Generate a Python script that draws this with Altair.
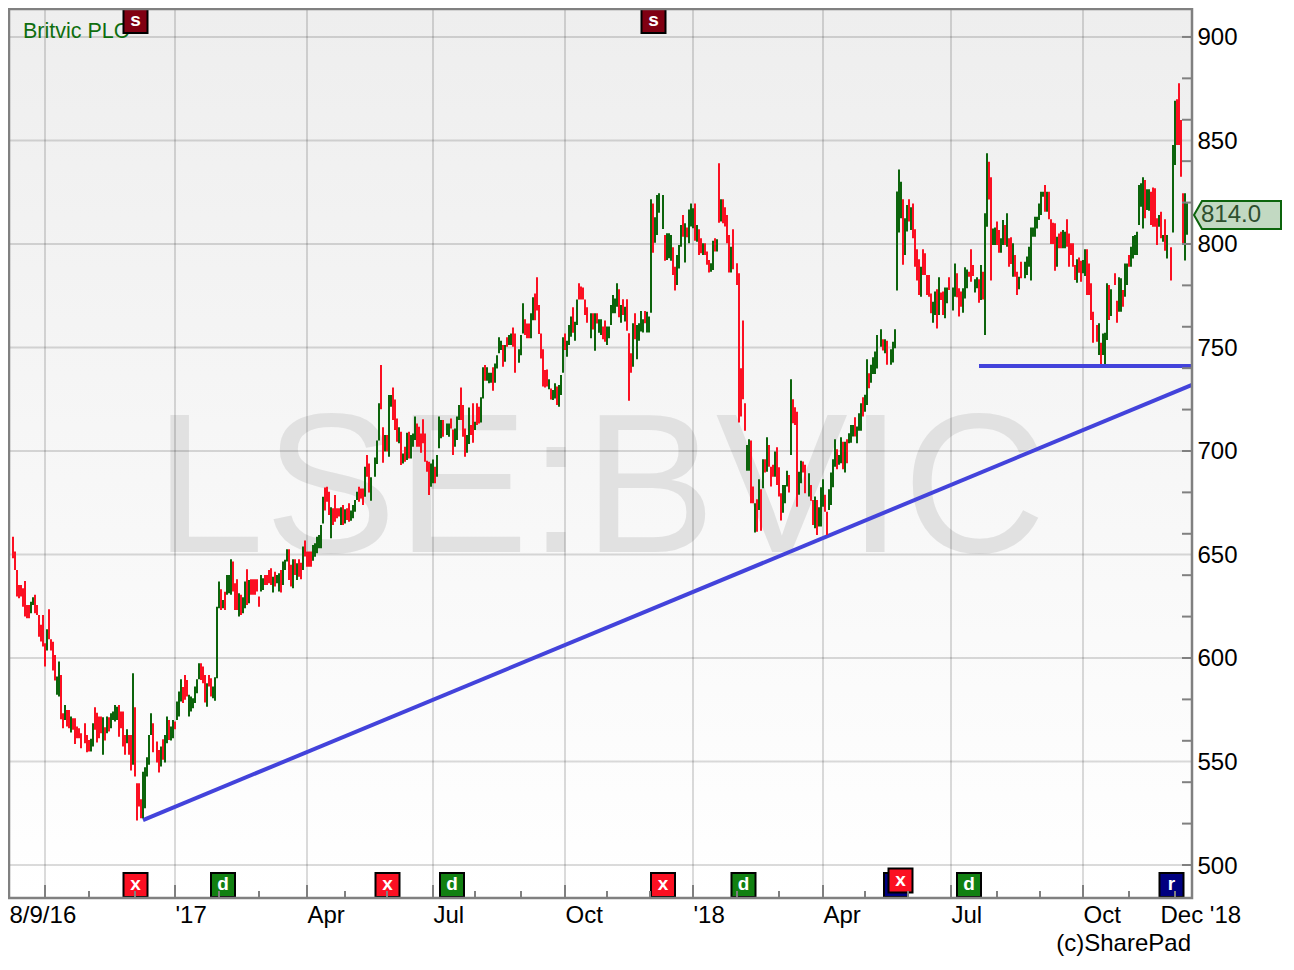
import altair as alt
import pandas as pd

FONT = "Liberation Sans"
RED = "#fb1022"
GREEN = "#0c640c"

# one entry per trading bar: (high, low, r=fell / g=rose); None = no bar visible
bars_1 = [(658.6,648.2,'r'),(651.4,642.5,'r'),(642.5,629.7,'r'),(635.3,628.9,'r'),(635.3,629.7,'r'),(633.7,624.8,'r'),(637.2,620,'r'),(625.6,619.2,'r'),(625.6,619.2,'r'),(627.2,621.6,'g'),
(629.3,625.6,'g'),(630.5,621.6,'r'),(625.6,620.8,'r'),(620.8,610.3,'r'),(616,608,'r'),(620.8,605.5,'r'),(607.1,595.9,'r'),(613.9,603.6,'g'),(623.6,609,'r'),(609,603.6,'r'),
(607.9,593.9,'r'),(601.5,589.1,'r'),(591,582.2,'g'),(598.3,581.4,'g'),(591.8,570.4,'r'),(573.3,566.1,'r'),(577.3,570.1,'g'),(574.9,566.9,'r'),(574.9,566.1,'r'),(571.7,564,'g'),
(570.9,565.3,'r'),(570.9,558.5,'r'),(566.9,561.2,'r'),(566.1,561.2,'r'),(563.7,556.4,'r'),None,(568.5,558.8,'r'),(562.8,554.5,'r'),(560.4,554.8,'r'),(561,554.8,'g'),
(568.5,557.2,'g'),(576.2,565.3,'r'),(573.6,559.2,'r'),(571.7,561.2,'r'),(571.7,563.7,'r'),(571.4,553.2,'g'),(566.6,560.1,'r'),(571.7,563.7,'g'),(571.4,564.5,'r'),(573.3,566.1,'g'),
(574.1,570.1,'g'),(577.3,569.3,'g'),(576.5,570.1,'g'),(577.3,562,'r'),(574.1,566.1,'r'),(574.1,557.2,'r'),(562.8,553.2,'r'),(565.6,558.8,'g'),(562.8,553.2,'r'),(562.8,545.6,'r'),
(592.6,548.4,'g'),(576.2,542.7,'r'),(539.5,521.5,'r'),(539.5,528.2,'r'),(531.8,522.6,'r'),(545.1,522.6,'g'),(547.2,527.4,'g'),(552,542.7,'g'),(562.8,548.4,'g'),(573.3,562.8,'g'),
(568.5,554.5,'r'),None,(559.6,549.5,'r'),(555.6,544.7,'r'),(557.2,547.6,'g'),(560.8,550.8,'r'),(562.8,549.5,'g'),(571.7,558.8,'g'),(570.1,560.4,'r'),(566.9,560.1,'g'),
(570.1,561.2,'g'),(569.3,565.6,'r'),(579,570.1,'g'),(583.8,571.7,'g'),(589.7,579,'g'),(586,578.2,'r'),(591.8,579.8,'r'),(589.4,581.4,'r'),(582.2,571.7,'g'),(581.4,574.1,'g'),
(580.6,575.7,'g'),(586.2,578.2,'g'),(589.7,583,'g'),(597.5,589.7,'g'),(597.5,589.4,'r'),(595.9,587.8,'r'),(591.8,578.5,'r'),(587.8,576.5,'g'),(591.8,586.2,'r'),(590.2,581.4,'r'),
(586.2,580.6,'g'),(590.7,579.4,'g'),(624.8,590.2,'g'),(636.9,624,'g'),(633.2,623.2,'r'),(628,624,'g'),(632,623.2,'r'),(640.1,630.5,'g'),(640.1,631.3,'g'),(647.7,630.5,'g'),
(646.6,632.1,'r'),(636.1,623.2,'r'),(638,623.2,'r'),(631.3,620,'g'),(630.5,620.8,'r'),(629.3,621.6,'g'),(636.9,624,'g'),(642.9,625.6,'r'),(637.7,626.5,'g'),(638,630.5,'r'),
(638,630.5,'r'),(638,630.5,'r'),(638,632.1,'r'),(629.7,624.8,'r'),(640.1,632.1,'g'),(638.5,632.9,'g'),(640.1,635.3,'r'),(640.1,635.3,'r'),(642.5,636.1,'r'),(643.4,635.3,'r'),
(639.3,631.6,'g'),(641.7,634.5,'r'),(640.1,636.1,'g'),(640.9,632.1,'g'),(642.5,631.6,'r'),(646.6,635.3,'g'),(647.4,642.5,'g'),(652.5,646.6,'g'),(652.5,637.7,'r'),(645,634.5,'r'),
(647.7,633.7,'g'),(647.7,640.1,'r'),(645.8,637.7,'g'),(647.7,639.3,'r')]

bars_2 = [(646,638,'r'),(653.8,642.5,'g'),(656.7,649,'r'),(651.4,644.1,'r'),(651.4,644.1,'r'),(651.4,644.1,'r'),(654.6,647,'g'),(655.4,648.9,'g'),(658.6,650.6,'g'),(659.4,653,'g'),
(664.2,653,'g'),(677.9,665,'g'),(682.4,671.2,'r'),(682.7,675.5,'r'),(680.3,669.1,'r'),(672.8,657.8,'g'),(672.3,664.2,'r'),(678.7,665.8,'r'),(672.3,667.5,'r'),(672.3,668.3,'r'),
(672.8,664.2,'g'),(673.9,664.2,'r'),(671.8,665,'g'),(672.3,666.6,'r'),(674.7,665.8,'r'),(671.2,666.3,'g'),(673.9,667.5,'g'),(676.3,670.7,'g'),(680.3,676.3,'g'),(682.7,675.5,'r'),
(681.9,677.1,'r'),(681.9,673.9,'r'),(692.4,677.9,'g'),(698,687.6,'r'),(694,679.9,'r'),(687.3,676,'g'),None,(696.9,687.6,'g'),(705,693.7,'g'),(723,705,'g'),
(741.5,720.1,'r'),(711.4,694.3,'r'),(707.7,699.7,'g'),(707.7,699.7,'r'),(727,697.2,'g'),(727,721.4,'g'),(730.7,715,'r'),(724.9,710.1,'r'),(715.7,704.5,'r'),(711.4,703.7,'g'),
(709.3,693.2,'r'),(698.8,694,'g'),(702.1,694.8,'r'),(708.8,695.6,'g'),(709.3,696.4,'r'),(707.7,696.4,'g'),(708.5,702.1,'g'),(716.6,705.3,'g'),(713.3,702.1,'r'),(711.7,702.1,'r'),
(708.5,699.2,'r'),(715.3,703.7,'r'),(708.5,694.8,'r'),(695.3,690,'r'),(694.8,678.7,'r'),(694,682.7,'g'),(695.9,684.4,'g'),(692.4,684.4,'r'),(698,687.6,'g'),(716.6,701.3,'g'),
(715,706.1,'g'),(715,706.9,'r'),None,(713.3,707.7,'g'),(713.3,706.9,'g'),(715.7,710.9,'r'),(710.4,698,'r'),(710.9,702.1,'g'),(716.6,705.3,'g'),(722.2,715,'g'),
(730.7,715,'r'),(722.2,706.9,'r'),(710.9,697.2,'r'),(707.7,699.2,'g'),(721,703.4,'g'),(712.5,707.7,'r'),(723,704,'r'),(714.1,710.1,'g'),(723,712.5,'r'),(721.4,713.3,'r'),
(725.9,713.7,'g'),(740.4,725.4,'g'),(741.5,733.9,'r'),(740.4,733.9,'g'),(737.8,732.7,'g'),(737.8,733,'g'),(740.4,729.1,'r'),(742.3,733,'g'),(746.3,739.9,'g'),(754.9,747.2,'g'),
(753.3,748.8,'g'),(751.2,740.7,'r'),(751.2,743.1,'g'),(754.9,750.4,'r'),(756,751.2,'g'),(756.8,751.2,'g'),(759.7,750.4,'r'),(756.8,737.8,'r'),None,(749.1,742.6,'g'),
(756,746.3,'g'),(771.3,756.8,'g'),(763.6,756,'r'),(761.6,754.4,'r'),(761.6,754.4,'r'),(766.5,754.4,'g'),(774.2,763.2,'g'),(776.1,763.2,'r'),(783.9,767.8,'r'),(770.5,756.5,'r'),
(756.8,744.7,'r'),(749.1,731.1,'r'),(739.1,730.7,'r'),(739.4,731.1,'r'),(734.6,729.8,'g'),(730.2,724.9,'r'),(729.4,724.6,'g'),(732.7,725.4,'g'),(731.1,722.2,'r'),(731.9,721.4,'g'),
(736.7,727,'g'),(754.9,737.8,'g'),(756.8,748.8,'r'),(753.3,745.5,'g'),(760.8,751.2,'g'),(764.9,755.2,'g'),(769.4,757.1,'r'),(762.4,753.3,'g'),(773.2,760.8,'g'),(781,773.2,'r'),
(779.4,773.2,'r'),(779,773.2,'r'),(773.2,765.7,'r'),(769.4,762,'r'),None,(766.5,754.4,'g'),(766.5,758.7,'r'),(766.5,748.4,'g'),(766.5,761.6,'r'),(763.6,757.1,'g')]

bars_3 = [(763.6,756,'g'),(760.1,754,'r'),(763,752.8,'r'),(760.1,751.2,'g'),(760.1,754.4,'g'),(770.5,760.9,'g'),(775.4,766.5,'g'),(773.7,766.5,'g'),(781,769.7,'g'),(778.1,764.6,'r'),
(770.5,762,'g'),(773.3,765.7,'r'),(769.7,762.5,'g'),(773.3,758.1,'r'),(756.9,724.3,'r'),(747.2,737.8,'r'),(761.7,740.7,'g'),(766.5,754,'r'),(760.9,744.3,'g'),(761.7,753.3,'g'),
(767.6,757.7,'g'),(763.6,757.2,'g'),(767.6,761.7,'r'),(767.3,757.2,'g'),(764.9,757.2,'g'),(821.6,766.8,'g'),(819.6,795.8,'r'),(812.9,800.6,'g'),(823.7,804.3,'g'),(824.5,815.1,'g'),
None,(823.7,807.2,'g'),(804.3,791.9,'r'),(805.2,792.3,'g'),(805.2,793.1,'g'),(804.3,791.9,'g'),(798.4,785,'r'),(789,777.5,'r'),(794.7,780.2,'g'),(799.5,788.2,'g'),
(809.2,798.7,'g'),(814,803.5,'r'),(810,791,'g'),(808,803.2,'r'),(816.7,800.3,'g'),(819.6,808.4,'g'),(817.2,807.6,'g'),(819.6,801.6,'r'),(809.2,801.1,'g'),(807.1,794.7,'r'),
(802.7,795.5,'r'),(800.3,794.7,'g'),(800.3,794.7,'r'),(796.3,789.9,'r'),(792.3,786.2,'r'),(790.7,786.6,'g'),(801.6,787.4,'g'),(802.7,796.3,'r'),(802.3,796.3,'g'),(839,810.3,'r'),
(821.6,810.8,'g'),(821.6,810,'r'),(817.7,808.4,'r'),(814,800.3,'r'),(804.3,786.2,'r'),(798.7,786.2,'g'),(807.1,787.8,'r'),None,(790.7,780.2,'r'),(785.8,713.7,'r'),
(740,716.6,'r'),(763,725,'r'),(723,709.8,'r'),(702.9,690.5,'g'),(705.7,690.5,'g'),(705,674.7,'r'),(682.8,674.7,'r'),(674.7,660.6,'g'),(676.7,661,'r'),(686.3,671.5,'g'),
(681.5,661.5,'r'),(696,682,'g'),(696,689.6,'r'),(706.6,690,'g'),(702.9,692.4,'r'),(692.4,682.8,'r'),(693.3,687.6,'r'),(699.7,687.6,'g'),(701.8,683.6,'r'),(692.1,678,'r'),
(679.6,666.4,'r'),(683.6,670.2,'g'),(683.6,674.7,'g'),(690.5,682.8,'g'),(688.4,679.9,'r'),(734.6,698.1,'g'),(725,713.4,'r'),(721.1,712.6,'r'),(719,673.1,'r'),(690,678.8,'g'),
(695.3,684.4,'g'),(694.9,689.6,'r'),(693.3,679.6,'r'),None,(689.2,678,'g'),(683.6,676,'r'),(676.3,664.3,'r'),(678,662.7,'g'),(676.3,659.4,'r'),(672.8,663.5,'g'),
(682.5,663.5,'g'),(686.3,673.1,'g'),(678.8,670.7,'r'),(670.7,659.4,'r'),(681.5,671.5,'g'),(689.6,673.9,'g'),(696,682.5,'g'),(705.7,692.4,'g'),(700.8,691.2,'r'),(698.1,693.3,'g'),
(706.6,694.1,'g'),(704.5,691.2,'r'),(704.5,689.6,'g'),(705.7,694.1,'r'),(708.6,703.7,'g'),(712.6,704,'g'),(712.6,707,'g'),(716.3,707,'r'),(711.8,703.7,'g'),(718.2,709.8,'g'),
(723,709.8,'g'),(725.9,716.6,'r'),(727.1,719,'g'),(744.3,722.2,'g'),(737.5,730.3,'r'),(741.6,733,'g'),(745.3,737.2,'g'),(748,737.2,'g'),(756,739.9,'g'),None,
(758.8,750.4,'g'),(754,748.5,'r'),(754,747.2,'g'),(753.3,741.6,'r'),None,(749.1,741.6,'g'),(752.8,742.7,'g'),(758.8,749.6,'g'),(825.3,777.5,'g'),(836,805.5,'g'),
(830.1,812.4,'g'),(821.6,789.9,'r'),(812.4,794.7,'g'),(818.8,806,'g'),(821.6,810.8,'r'),(817.7,806.8,'g'),(819.6,802.7,'r'),(807.1,789,'r'),(797.4,782.3,'r'),(792.6,775.4,'r')]

bars_4 = [(789,774.5,'g'),(797.4,785,'r'),(795.5,785,'r'),(785,775.3,'r'),(785,774.5,'r'),(776.1,766.5,'r'),(772.1,762,'g'),(777,765.7,'g'),(778.1,759.2,'r'),(783.9,765.7,'g'),
(776.5,772.9,'r'),(777,765.7,'r'),(779,764.1,'g'),(779,771.3,'g'),(783.9,777.7,'r'),None,(779,767.8,'g'),(790.6,774.5,'g'),(785.8,774.2,'r'),(778.6,764.9,'r'),
(777,769.7,'r'),(778.6,766.8,'g'),(788.7,773.7,'g'),(787.7,778.6,'g'),(786.6,784.2,'r'),(797.4,781.8,'r'),(789.8,784.5,'r'),(782.9,776.5,'g'),(783.9,778.6,'g'),(782.9,771.6,'r'),
(789.8,772.9,'g'),(786.6,773.2,'r'),(814.8,756,'g'),(843.8,808.3,'g'),(839.7,821.5,'r'),(832.2,782.3,'r'),(807.5,799.5,'g'),(808,799.5,'g'),(810.8,799.5,'r'),(806.7,795.8,'r'),
(802.7,795.8,'g'),(811.6,799.5,'g'),(809.2,799.5,'r'),(814.8,798.7,'g'),(802.7,789,'r'),(803.2,790.3,'r'),(800.3,784.2,'g'),(794.7,784.2,'r'),(786.6,775.3,'r'),(784.2,778.1,'g'),
(791.4,783.4,'r'),None,(791.4,783.4,'g'),(793.9,785,'g'),(798.7,789,'g'),(808,782.3,'g'),(808,803.5,'g'),(813.2,803.5,'g'),(813.2,807.5,'g'),(819.6,811.6,'g'),
(825.2,814,'g'),(825.2,822.8,'g'),(828.5,815.6,'r'),(825.2,815.6,'g'),(825.2,811.9,'r'),(811.9,800,'r'),(810.3,800,'r'),(810,787.1,'r'),(803.5,789,'g'),(805.1,797.9,'r'),
(805.9,797.9,'r'),(806.7,797.9,'g'),(805.9,797.9,'g'),(811.9,798.7,'r'),(805.1,789,'r'),(800.3,794.7,'r'),(800.3,789,'r'),(789.8,782.6,'r'),(792.6,781.3,'g'),(793.5,786.1,'r'),
(791.9,781.8,'r'),(792.2,785.8,'g'),(797.4,784.5,'g'),(797.4,775.3,'r'),(790.6,775.3,'r'),(781,763.3,'r'),(767.3,752.3,'r'),None,(760.8,752.8,'r'),(761.7,746.4,'g'),
(752.3,742,'r'),(756.8,746.4,'g'),(757.1,742,'g'),(781,753.6,'g'),(780.2,763.3,'r'),(778.1,765.2,'g'),None,(785.8,780.2,'r'),(772.6,762,'r'),(783.9,767.3,'g'),
(783.4,767.3,'g'),(777.7,769.7,'r'),(790.6,774.5,'g'),(790.6,780.2,'g'),(794.7,789,'r'),(798.7,789,'g'),(803.8,793,'g'),(804.3,794.7,'g'),(805.9,794.7,'g'),(828.5,809.1,'g'),
(829.3,818,'g'),(832.2,807.5,'g'),(830.9,812.4,'r'),(826.4,816.4,'g'),(826.4,816.1,'g'),(825.2,809.1,'r'),(827.3,808.3,'r'),(826.9,808.3,'r'),(812.4,799.5,'r'),(814,808.3,'g'),
(815.6,802.7,'r'),(804.3,801.1,'g'),(811.9,796.7,'r'),(804.3,793,'g'),None,(798.4,782.3,'r'),(847.8,805.5,'g'),(869.2,838.2,'g'),(869.9,847.8,'r'),(877.6,847.8,'r'),
(859.9,832.5,'r'),(824.5,800,'r'),(824.5,792,'g'),(819.7,804.4,'g')]

y_labels = [500, 550, 600, 650, 700, 750, 800, 850, 900]
y_minor = [500, 520, 540, 560, 580, 600, 620, 640, 660, 680, 700, 720, 740, 760, 780, 800, 820, 840, 860, 880, 900]
x_major = [16, 81, 147, 210, 276, 340, 405, 469, 535]
x_minor = [38, 61, 103, 123, 166, 187, 231, 254, 297, 318.5, 362, 383, 426, 447.5, 492, 513.5, 558, 581]
x_label_pos = [-2, 81, 147, 210, 276, 340, 405, 469, 535, 573.5]
x_label_txt = ["8/9/16", "'17", "Apr", "Jul", "Oct", "'18", "Apr", "Jul", "Oct", "Dec '18"]

trend_x = [65, 589.5]
trend_y = [521.7, 731.9]
support_x = [483, 589.5]
support_y = [741, 741]

marker_x = [61.25, 320.25, 61.25, 105, 187.25, 219.5, 325, 365.25, 441.5, 443.75, 478, 579.25]
marker_y = [907.7, 907.7, 490.3, 490.3, 490.3, 490.3, 490.3, 490.3, 490.3, 492.5, 490.3, 490.3]
marker_t = ["s", "s", "x", "d", "x", "d", "x", "d", "", "x", "d", "r"]
marker_c = ["#800012", "#800012", "#fb1022", "#118011", "#fb1022", "#118011", "#fb1022", "#118011",
            "#000080", "#fb1022", "#118011", "#000080"]

X0, X1 = -2, 589.5
Y0, Y1 = 484.06, 913.5
W, H = 1183, 889
DX = 0.5    # half a rule's width along x, in bar units
DY = 0.483  # half a rule's width along y, in price units

rows = []
i = 0
for seg in (bars_1, bars_2, bars_3, bars_4):
    for b in seg:
        if b is not None:
            rows.append({"i": i, "a": i - DX, "b": i + DX, "hi": b[0], "lo": b[1], "c": RED if b[2] == "r" else GREEN})
        i += 1
bars_df = pd.DataFrame(rows)

label_expr = "".join(f"datum.value==={p}?\"{t}\":" for p, t in zip(x_label_pos, x_label_txt)) + "''"

xs = alt.Scale(domain=[X0, X1], nice=False, zero=False)
ys = alt.Scale(domain=[Y0, Y1], nice=False, zero=False)
ax_x = alt.Axis(values=x_label_pos, labelExpr=label_expr, title=None, grid=False, ticks=False, domain=False,
                labelFont=FONT, labelFontSize=24, labelColor="#000000", labelAlign="left", labelBaseline="top",
                labelPadding=5)
ax_y = alt.Axis(values=y_labels, orient="right", title=None, grid=False, ticks=False, domain=False,
                labelFont=FONT, labelFontSize=24, labelColor="#000000", labelPadding=5, labelOffset=1)
X = lambda f: alt.X(f, type="quantitative", scale=xs, axis=ax_x)
Y = lambda f: alt.Y(f, type="quantitative", scale=ys, axis=ax_y)
one = alt.Data(values=[{"a": 1}])

back = alt.Chart(one).mark_rect(
    color=alt.Gradient(gradient="linear", x1=0, x2=0, y1=0, y2=1,
                       stops=[alt.GradientStop(color="#eeeeee", offset=0),
                              alt.GradientStop(color="#ffffff", offset=1)])
).encode(x=alt.value(0), x2=alt.value(W), y=alt.value(0), y2=alt.value(H))

water = alt.Chart(pd.DataFrame({"x": [293.5], "y": [651], "t": ["LSE:BVIC"]})).mark_text(
    font=FONT, fontSize=198, color="#e1e1e1", align="center", baseline="alphabetic"
).encode(x=X("x"), y=Y("y"), text="t:N")

gy = pd.DataFrame({"y": y_labels})
gy["a"] = gy.y - DY
gy["b"] = gy.y + DY
grid_y = alt.Chart(gy).mark_rect(color="#000000", opacity=0.14).encode(y=Y("a"), y2="b:Q")
gx = pd.DataFrame({"x": x_major})
gx["a"] = gx.x - DX
gx["b"] = gx.x + DX
grid_x = alt.Chart(gx).mark_rect(color="#000000", opacity=0.14).encode(x=X("a"), x2="b:Q")

title = alt.Chart(pd.DataFrame({"x": [5], "y": [899.5], "t": ["Britvic PLC"]})).mark_text(
    font=FONT, fontSize=21.5, color="#0f6e0f", align="left", baseline="alphabetic"
).encode(x=X("x"), y=Y("y"), text="t:N")

trend = alt.Chart(pd.DataFrame({"x": trend_x, "y": trend_y})).mark_line(color="#4343db", strokeWidth=4).encode(x=X("x"), y=Y("y"))
support = alt.Chart(pd.DataFrame({"x": support_x, "y": support_y})).mark_line(color="#4343db", strokeWidth=4).encode(x=X("x"), y=Y("y"))

price = alt.Chart(bars_df).mark_rect().encode(
    x=X("a"), x2="b:Q",
    y=Y("lo"), y2="hi:Q",
    color=alt.Color("c:N", scale=None),
)

mk = pd.DataFrame({"x": marker_x, "y": marker_y, "t": marker_t, "c": marker_c})
squares = alt.Chart(mk).mark_square(size=576, stroke="#000000", strokeWidth=2, opacity=1).encode(
    x=X("x"), y=Y("y"), fill=alt.Fill("c:N", scale=None))
letters = alt.Chart(mk).mark_text(font=FONT, fontSize=19, fontWeight="bold", color="#ffffff", baseline="middle", align="center", dy=-1).encode(
    x=X("x"), y=Y("y"), text="t:N")

ty = pd.DataFrame({"y1": [v - DY for v in y_minor], "y2": [v + DY for v in y_minor],
                   "a": [X1] * len(y_minor), "b": [X1 - 5] * len(y_minor)})
ticks_y = alt.Chart(ty).mark_rect(color="#808080").encode(x=X("b"), x2="a:Q", y=Y("y1"), y2="y2:Q")
tmaj = pd.DataFrame({"x1": [v - DX for v in x_major], "x2": [v + DX for v in x_major],
                     "a": [Y0] * len(x_major), "b": [Y0 + 6.3] * len(x_major)})
ticks_maj = alt.Chart(tmaj).mark_rect(color="#808080").encode(x=X("x1"), x2="x2:Q", y=Y("a"), y2="b:Q")
tmin = pd.DataFrame({"x1": [v - DX for v in x_minor], "x2": [v + DX for v in x_minor],
                     "a": [Y0] * len(x_minor), "b": [Y0 + 3.4] * len(x_minor)})
ticks_min = alt.Chart(tmin).mark_rect(color="#808080").encode(x=X("x1"), x2="x2:Q", y=Y("a"), y2="b:Q")

border = alt.Chart(one).mark_rect(fillOpacity=0, stroke="#808080", strokeWidth=2.5).encode(
    x=alt.value(0), x2=alt.value(W), y=alt.value(0), y2=alt.value(H))

tag = alt.Chart(pd.DataFrame({"x": [612.25], "y": [814]})).mark_point(
    shape="M -1 0 L -0.816 -0.322 L 1 -0.322 L 1 0.322 L -0.816 0.322 Z",
    size=7569, filled=True, fill="#c2d9c2", stroke="#0c640c", strokeWidth=2, opacity=1
).encode(x=X("x"), y=Y("y"))
tag_txt = alt.Chart(pd.DataFrame({"x": [594], "y": [814], "t": ["814.0"]})).mark_text(
    font=FONT, fontSize=24, color="#2e4f2e", align="left", baseline="middle"
).encode(x=X("x"), y=Y("y"), text="t:N")

credit = alt.Chart(pd.DataFrame({"x": [589], "y": [458.5], "t": ["(c)SharePad"]})).mark_text(
    font=FONT, fontSize=24, color="#000000", align="right", baseline="alphabetic"
).encode(x=X("x"), y=Y("y"), text="t:N")

chart = alt.layer(
    back, water, grid_y, grid_x, title, trend, support, price, squares, letters,
    ticks_y, ticks_maj, ticks_min, border, tag, tag_txt, credit
).properties(
    width=W, height=H,
    padding={"left": 1, "top": 1, "right": 92, "bottom": 64},
    autosize=alt.AutoSizeParams(type="none"),
    background="#ffffff",
).configure_view(stroke=None)

chart.save("out.html", embed_options={"renderer": "svg", "actions": False})
